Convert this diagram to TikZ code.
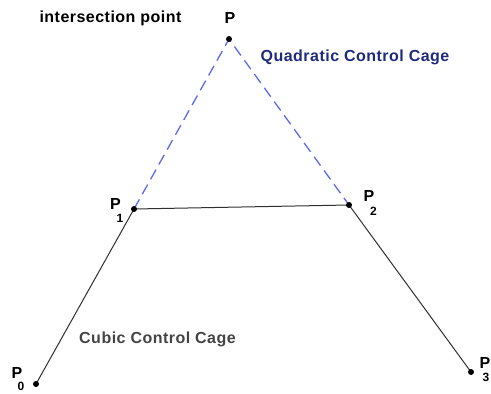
\documentclass[tikz,border=0pt]{standalone}
\usepackage{fontspec}
\newfontfamily\lblfamily[LetterSpace=3]{Liberation Sans}
\usepackage{xcolor}
\definecolor{QuadNavy}{HTML}{1F2A7C}
\definecolor{QuadBlue}{HTML}{5A6AF2}
\definecolor{CubicText}{HTML}{444444}
\definecolor{CageGray}{HTML}{303030}
\usepackage{tikz}
\usetikzlibrary{positioning}

\begin{document}
\begin{tikzpicture}[x=1pt, y=-1pt,
  cage/.style={draw=CageGray, line width=1pt},
  quadcage/.style={draw=QuadBlue, line width=1.3pt, dash pattern=on 11pt off 6pt},
  ptdot/.style={circle, fill=black, inner sep=0pt, minimum size=6pt},
  lbl/.style={font=\lblfamily\bfseries\fontsize{16}{19}\selectfont, inner sep=0pt},
  sub/.style={font=\lblfamily\bfseries\fontsize{12}{14}\selectfont, inner sep=0pt},
]
\useasboundingbox (0,0) rectangle (491,394);
% control points, in pixel coordinates of the picture
\foreach \name/\x/\y in {P0/36/384, P1/134/209, P2/349/205, P3/471/372, P/229/39}
  \coordinate (\name) at (\x,\y);

\draw[cage] (P0) -- (P1) -- (P2) -- (P3);
\draw[quadcage] (P1) -- (P) -- (P2);

\foreach \name in {P0,P1,P2,P3,P}
  \node[ptdot] (dot\name) at (\name) {};

% point labels with their subscripts
\node[lbl] (labP) at (230,18) {P};
\foreach \i/\x/\y/\sx/\sy in {0/17/373/21/386.5, 1/115.5/204/120/218.5, 2/369/195.5/373.5/211.5, 3/485/363/486/377} {
  \node[lbl] (labP\i) at (\x,\y) {P};
  \node[sub] (subP\i) at (\sx,\sy) {\i};
}

\node[lbl] (intersect) at (110.5,18) {intersection point};
\node[lbl, text=QuadNavy] (quadlbl) at (355,57) {Quadratic Control Cage};
\node[lbl, text=CubicText] (cubiclbl) at (157.5,339) {Cubic Control Cage};
\end{tikzpicture}
\end{document}
